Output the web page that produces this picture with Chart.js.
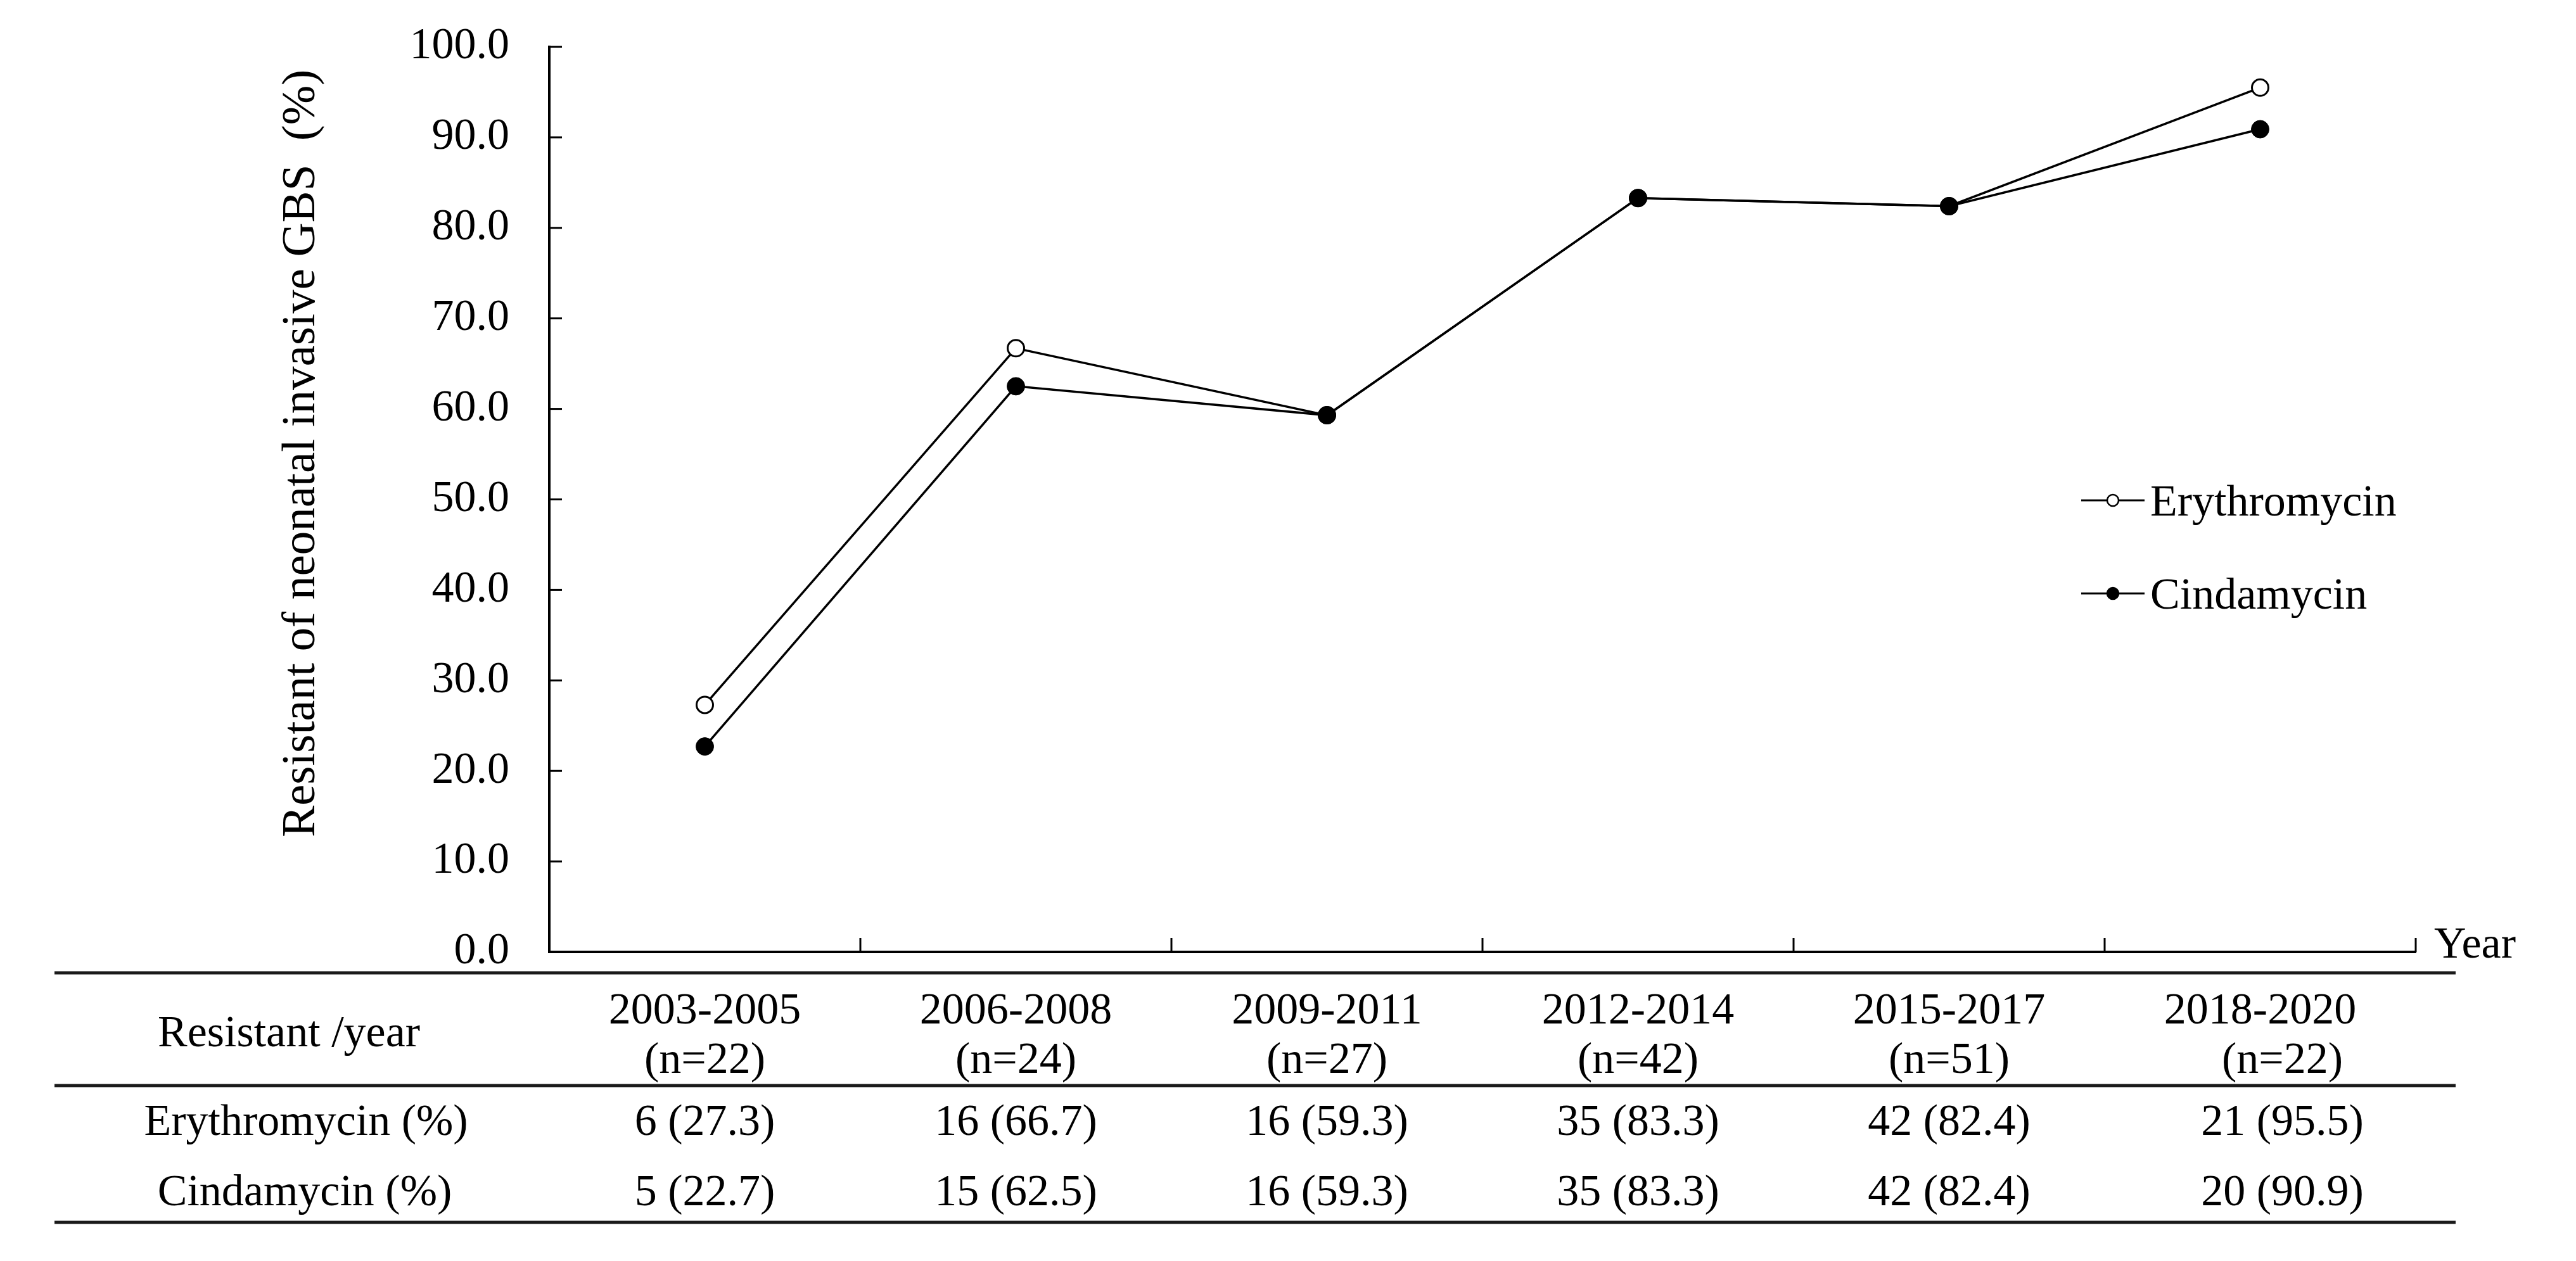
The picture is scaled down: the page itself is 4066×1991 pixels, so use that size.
<!DOCTYPE html>
<html>
<head>
<meta charset="utf-8">
<script src="https://cdn.jsdelivr.net/npm/chart.js@4.4.1/dist/chart.umd.min.js"></script>
<style>
  html, body { margin: 0; padding: 0; background: #fff; }
  canvas { display: block; }
</style>
</head>
<body>
<canvas id="c" width="4066" height="1991"></canvas>
<script>
// ---- data ----
const periods = ['2003-2005', '2006-2008', '2009-2011', '2012-2014', '2015-2017', '2018-2020'];
const totals = [22, 24, 27, 42, 51, 22];
const eryCount = [6, 16, 16, 35, 42, 21];
const eryPct = [27.3, 66.7, 59.3, 83.3, 82.4, 95.5];
const cindCount = [5, 15, 16, 35, 42, 20];
const cindPct = [22.7, 62.5, 59.3, 83.3, 82.4, 90.9];
const seriesNames = ['Erythromycin', 'Cindamycin'];
const rowLabels = ['Resistant /year', 'Erythromycin (%)', 'Cindamycin (%)'];
const yTitle = 'Resistant of neonatal invasive GBS  (%)';
const xTitle = 'Year';

const FONT = '"Liberation Serif", "Times New Roman", serif';

const extras = {
  id: 'extras',
  afterDraw(chart) {
    const ctx = chart.ctx;
    const ca = chart.chartArea;
    const xs = chart.scales.x, ys = chart.scales.y;
    ctx.save();
    ctx.strokeStyle = '#000';
    ctx.fillStyle = '#000';
    // inward y ticks
    ctx.lineWidth = 3;
    ys.ticks.forEach(t => {
      const y = ys.getPixelForValue(t.value);
      ctx.beginPath(); ctx.moveTo(ca.left, y); ctx.lineTo(ca.left + 20, y); ctx.stroke();
    });
    // inward x ticks at category boundaries
    const half = (xs.getPixelForValue(1) - xs.getPixelForValue(0)) / 2;
    for (let i = 0; i < periods.length; i++) {
      const x = xs.getPixelForValue(i) + half;
      ctx.beginPath(); ctx.moveTo(x, ca.bottom); ctx.lineTo(x, ca.bottom - 22); ctx.stroke();
    }
    // x title
    ctx.font = '70px ' + FONT;
    ctx.textAlign = 'left'; ctx.textBaseline = 'alphabetic';
    ctx.fillText(xTitle, ca.right + 29, ca.bottom + 9);
    // y title
    ctx.save();
    ctx.font = '75px ' + FONT;
    ctx.translate(496, 1322);
    ctx.rotate(-Math.PI / 2);
    ctx.textAlign = 'left';
    ctx.fillText(yTitle, 0, 0);
    ctx.restore();
    // legend
    const ds = chart.data.datasets;
    const legY = [790, 937];
    const legTextY = [814, 961];
    for (let k = 0; k < 2; k++) {
      const d = ds[k];
      ctx.lineWidth = 3;
      ctx.strokeStyle = '#000';
      ctx.beginPath(); ctx.moveTo(3285, legY[k]); ctx.lineTo(3385, legY[k]); ctx.stroke();
      ctx.beginPath(); ctx.arc(3335, legY[k], 9, 0, Math.PI * 2);
      ctx.fillStyle = d.pointBackgroundColor; ctx.fill();
      ctx.lineWidth = 2.5; ctx.stroke();
      ctx.fillStyle = '#000';
      ctx.font = '70px ' + FONT;
      ctx.textAlign = 'left';
      ctx.fillText(d.label, 3394, legTextY[k]);
    }
    // table
    ctx.strokeStyle = '#1a1a1a';
    ctx.lineWidth = 5;
    [1536, 1714, 1930].forEach(y => {
      ctx.beginPath(); ctx.moveTo(86, y); ctx.lineTo(3876, y); ctx.stroke();
    });
    ctx.fillStyle = '#000';
    ctx.font = '70px ' + FONT;
    ctx.textAlign = 'center';
    ctx.fillText(rowLabels[0], 456, 1652);
    ctx.fillText(rowLabels[1], 483, 1792);
    ctx.fillText(rowLabels[2], 481, 1903);
    periods.forEach((p, i) => {
      const x = xs.getPixelForValue(i);
      const sh = i === periods.length - 1 ? 35 : 0;
      ctx.fillText(p, x, 1616);
      ctx.fillText('(n=' + totals[i] + ')', x + sh, 1694);
      ctx.fillText(eryCount[i] + ' (' + eryPct[i].toFixed(1) + ')', x + sh, 1792);
      ctx.fillText(cindCount[i] + ' (' + cindPct[i].toFixed(1) + ')', x + sh, 1903);
    });
    ctx.restore();
  }
};

new Chart(document.getElementById('c'), {
  type: 'line',
  data: {
    labels: periods,
    datasets: [
      {
        label: seriesNames[0],
        data: eryPct,
        borderColor: '#000',
        borderWidth: 3.5,
        pointRadius: 13,
        pointBackgroundColor: '#fff',
        pointBorderColor: '#000',
        pointBorderWidth: 3,
        tension: 0,
        order: 1
      },
      {
        label: seriesNames[1],
        data: cindPct,
        borderColor: '#000',
        borderWidth: 3.5,
        pointRadius: 14,
        pointBackgroundColor: '#000',
        pointBorderColor: '#000',
        pointBorderWidth: 1,
        tension: 0,
        order: 0
      }
    ]
  },
  options: {
    responsive: false,
    animation: false,
    devicePixelRatio: 1,
    layout: { padding: { left: 0, top: 74, right: 253, bottom: 488 } },
    plugins: { legend: { display: false }, tooltip: { enabled: false } },
    scales: {
      x: {
        type: 'category',
        offset: true,
        grid: { display: false, drawTicks: false },
        border: { display: true, color: '#000', width: 4 },
        ticks: { display: false },
        afterFit(s) { s.height = 0; s.paddingLeft = 0; s.paddingRight = 0; }
      },
      y: {
        min: 0, max: 100,
        grid: { display: false, drawTicks: false },
        border: { display: true, color: '#000', width: 4 },
        ticks: {
          stepSize: 10,
          padding: 63,
          color: '#000',
          font: { family: FONT, size: 70 },
          callback: v => Number(v).toFixed(1)
        },
        afterFit(s) { s.width = 867; s.paddingTop = 0; s.paddingBottom = 0; }
      }
    }
  },
  plugins: [extras]
});
</script>
</body>
</html>
